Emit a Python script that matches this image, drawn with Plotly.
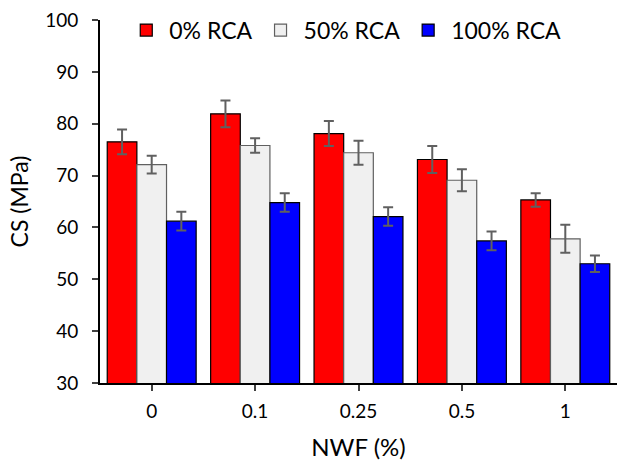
import plotly.graph_objects as go

categories = ["0", "0.1", "0.25", "0.5", "1"]
series_names = ["0% RCA", "50% RCA", "100% RCA"]
rca0 = [76.5, 81.9, 78.1, 73.1, 65.3]
rca0_err = [2.4, 2.6, 2.4, 2.6, 1.3]
rca50 = [72.1, 75.8, 74.4, 69.1, 57.8]
rca50_err = [1.7, 1.4, 2.3, 2.1, 2.7]
rca100 = [61.2, 64.8, 62.1, 57.4, 53.0]
rca100_err = [1.8, 1.8, 1.8, 1.8, 1.6]

FONT = "Lato"
fills = ["#ff0000", "#f0f0f0", "#0000ff"]
outlines = ["#000000", "#606060", "#000000"]

fig = go.Figure()
for name, vals, errs, fc, oc in zip(series_names, [rca0, rca50, rca100],
                                     [rca0_err, rca50_err, rca100_err], fills, outlines):
    fig.add_trace(go.Bar(
        x=categories, y=vals, name=name,
        marker=dict(color=fc, line=dict(color=oc, width=1.2)),
        error_y=dict(type="data", array=errs, visible=True,
                     color="#606060", thickness=2, width=5),
    ))

fig.update_layout(
    width=622, height=463,
    margin=dict(l=100, r=5, t=20, b=80),
    barmode="group", bargap=0.14, bargroupgap=0,
    plot_bgcolor="white", paper_bgcolor="white",
    font=dict(family=FONT, color="#000000", size=19),
    legend=dict(orientation="h", x=0.045, xanchor="left", y=0.972, yanchor="middle",
                font=dict(family=FONT, size=23, color="#000000"),
                itemwidth=36,
                bgcolor="rgba(0,0,0,0)", itemclick=False),
    xaxis=dict(type="category", showline=True, linecolor="black", linewidth=2,
               ticks="outside", ticklen=6, tickwidth=1.5, tickcolor="#404040",
               showgrid=False, tickfont=dict(size=19), ticklabelstandoff=4,
               title=dict(text="NWF (%)", font=dict(size=24), standoff=18)),
    yaxis=dict(range=[30, 100], dtick=10, showline=True, linecolor="black", linewidth=2,
               ticks="outside", ticklen=6, tickwidth=1.5, tickcolor="#404040",
               showgrid=False, zeroline=False, tickfont=dict(size=19), ticklabelstandoff=10,
               title=dict(text="CS (MPa)", font=dict(size=23), standoff=10)),
)

fig.write_html("out.html")
